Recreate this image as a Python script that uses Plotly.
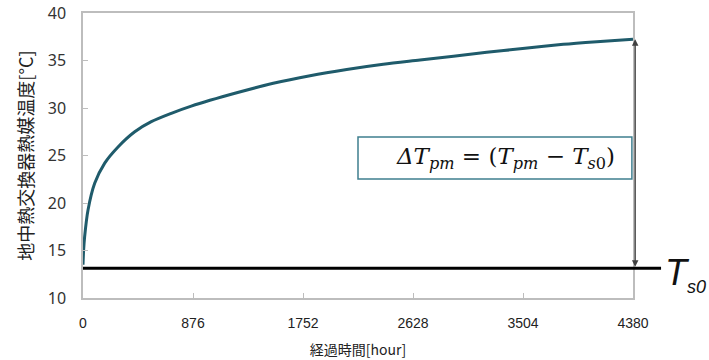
import plotly.graph_objects as go

# ---- data ----
hours = [0, 5, 13, 40, 93, 173, 279, 412, 544, 703, 862,
         1224, 1515, 1808, 2100, 2391, 2684, 3215, 3520, 3825, 4091, 4380]
temps = [13.5, 15.05, 16.45, 19.26, 22.07, 24.2, 25.9, 27.5, 28.56, 29.44, 30.2,
         31.6, 32.6, 33.4, 34.05, 34.6, 35.05, 35.86, 36.28, 36.7, 36.98, 37.25]
ts0 = 13.13
x_ticks = [0, 876, 1752, 2628, 3504, 4380]
y_ticks = [10, 15, 20, 25, 30, 35, 40]
x_title = "経過時間[hour]"
y_title = "地中熱交換器熱媒温度[°C]"
formula = "<i>ΔT</i><sub><i>pm</i></sub> = (<i>T</i><sub><i>pm</i></sub> − <i>T</i><sub><i>s</i>0</sub>)"
ts0_label = "<i>T</i><sub><i><span style='font-size:18px'>s0</span></i></sub>"

fig = go.Figure()
fig.add_trace(go.Scatter(
    x=hours, y=temps, mode="lines",
    line=dict(color="#1f5b6b", width=3, shape="spline", smoothing=0.8),
    showlegend=False, hoverinfo="skip"))

axis_common = dict(showgrid=False, zeroline=False, showline=True, mirror=True,
                   linecolor="#bdbdbd", linewidth=1.5, ticks="inside",
                   tickcolor="#bdbdbd", ticklen=5, automargin=False)

fig.update_layout(
    width=709, height=360,
    margin=dict(l=83, r=76, t=13, b=62),
    paper_bgcolor="white", plot_bgcolor="white",
    font=dict(family="Noto Sans, Noto Sans CJK JP", color="#333333"),
    xaxis=dict(range=[0, 4380], tickvals=x_ticks, ticktext=[str(v) for v in x_ticks],
               tickfont=dict(family="Liberation Sans Narrow, Liberation Sans", size=14, color="#222222"),
               ticklabelstandoff=11,
               title=dict(text=x_title, standoff=16,
                          font=dict(family="Noto Sans CJK JP", size=14, color="#222222")),
               **axis_common),
    yaxis=dict(range=[10, 40], tickvals=y_ticks,
               tickfont=dict(family="Noto Sans", size=16, color="#333333"),
               ticklabelstandoff=12,
               title=dict(text=y_title, standoff=9,
                          font=dict(family="Noto Sans CJK JP", size=18, color="#222222")),
               **axis_common),
)

# Ts0 horizontal line extending beyond the plot area
fig.add_shape(type="line", xref="paper", yref="y", x0=0, x1=1.051, y0=ts0, y1=ts0,
              line=dict(color="black", width=3), layer="above")

# double-headed arrow from curve end to Ts0
fig.add_annotation(xref="paper", yref="y", x=1.004, y=temps[-1],
                   axref="pixel", ayref="y", ax=0, ay=ts0,
                   showarrow=True, arrowhead=2, arrowside="end+start",
                   arrowsize=1, arrowwidth=1.3, arrowcolor="#404040",
                   standoff=0, startstandoff=0, text="")

# formula box
fig.add_shape(type="rect", xref="paper", yref="y", x0=0.5, x1=0.998, y0=22.53, y1=26.95,
              line=dict(color="#3f7f8f", width=1.5), fillcolor="white", layer="above")
fig.add_annotation(xref="paper", yref="y", x=0.768, y=24.74, showarrow=False,
                   text=formula, xanchor="center", yanchor="middle",
                   font=dict(family="DejaVu Serif, Liberation Serif", size=23, color="#111111"))

# Ts0 label
fig.add_annotation(xref="paper", yref="y", x=1.054, y=12.45, showarrow=False,
                   text=ts0_label, xanchor="left", yanchor="middle",
                   font=dict(family="Liberation Sans, Noto Sans", size=36, color="#111111"))

fig.write_html("out.html", config={"displayModeBar": False},
               post_script="document.body.style.margin='0';")
